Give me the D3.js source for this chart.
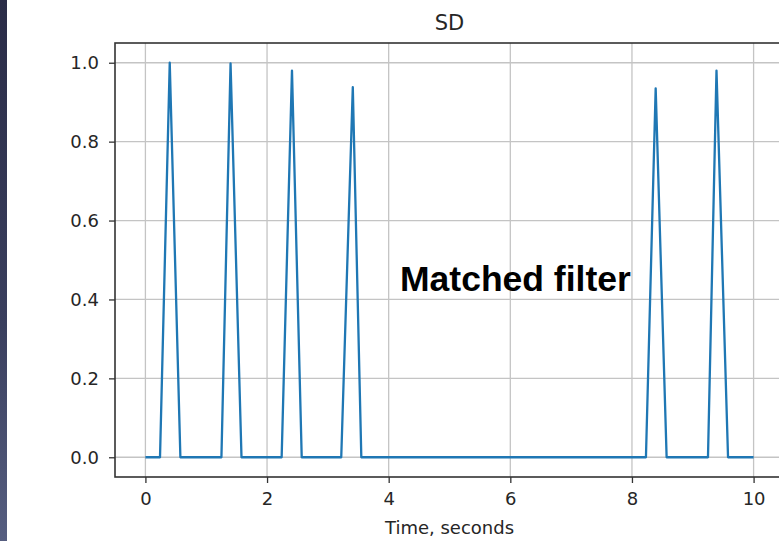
<!DOCTYPE html>
<html>
<head>
<meta charset="utf-8">
<script src="https://cdn.jsdelivr.net/npm/d3@7"></script>
<style>
  html, body { margin: 0; padding: 0; background: #ffffff; }
  svg { display: block; }
</style>
</head>
<body>
<svg id="chart" width="779" height="541"></svg>
<script>
// Matched filter output over time
const timeSeconds = [0, 0.24, 0.40, 0.575, 1.25, 1.40, 1.58, 2.24, 2.41, 2.57, 3.22, 3.41, 3.55, 8.23, 8.39, 8.57, 9.25, 9.39, 9.58, 10.0];
const sdValues    = [0, 0,    1.0,  0,     0,    0.998, 0,   0,    0.980, 0,   0,    0.938, 0,   0,    0.935, 0,   0,    0.980, 0,   0];
const xTicks = [0, 2, 4, 6, 8, 10];
const yTicks = [0.0, 0.2, 0.4, 0.6, 0.8, 1.0];
const titleText = "SD";
const xLabelText = "Time, seconds";
const noteText = "Matched filter";

const svg = d3.select("#chart");
const W = 779, H = 541;

// dark sidebar strip at the left edge
const defs = svg.append("defs");
const grad = defs.append("linearGradient").attr("id", "strip").attr("x1", 0).attr("y1", 0).attr("x2", 0).attr("y2", 1);
grad.append("stop").attr("offset", "0%").attr("stop-color", "#2a2c47");
grad.append("stop").attr("offset", "60%").attr("stop-color", "#3a3f5e");
grad.append("stop").attr("offset", "100%").attr("stop-color", "#565e80");
svg.append("rect").attr("x", 0).attr("y", 0).attr("width", 7).attr("height", H).attr("fill", "url(#strip)");

const plot = { left: 115, right: 784, top: 43, bottom: 477 };

const x = d3.scaleLinear().domain([-0.5, 10.5]).range([plot.left, plot.right]);
const y = d3.scaleLinear().domain([-0.05, 1.05]).range([plot.bottom, plot.top]);

const font = "'DejaVu Sans', sans-serif";

// grid
const grid = svg.append("g");
grid.selectAll("line.vx").data(xTicks).join("line")
  .attr("x1", d => x(d)).attr("x2", d => x(d))
  .attr("y1", plot.top).attr("y2", plot.bottom)
  .attr("stroke", "#c4c4c4").attr("stroke-width", 1.3);
grid.selectAll("line.hy").data(yTicks).join("line")
  .attr("x1", plot.left).attr("x2", plot.right)
  .attr("y1", d => y(d)).attr("y2", d => y(d))
  .attr("stroke", "#c4c4c4").attr("stroke-width", 1.3);

// signal line
const line = d3.line().x((d, i) => x(timeSeconds[i])).y(d => y(d));
svg.append("path")
  .datum(sdValues)
  .attr("d", line)
  .attr("fill", "none")
  .attr("stroke", "#1f77b4")
  .attr("stroke-width", 2.3)
  .attr("stroke-linejoin", "round");

// spines
svg.append("rect")
  .attr("x", plot.left).attr("y", plot.top)
  .attr("width", plot.right - plot.left).attr("height", plot.bottom - plot.top)
  .attr("fill", "none").attr("stroke", "#333333").attr("stroke-width", 1.6);

// axes
const xAxis = d3.axisBottom(x).tickValues(xTicks).tickFormat(d3.format("d")).tickSize(6).tickPadding(9);
const yAxis = d3.axisLeft(y).tickValues(yTicks).tickFormat(d3.format(".1f")).tickSize(6).tickPadding(10);

const gx = svg.append("g").attr("transform", `translate(0,${plot.bottom})`).call(xAxis);
const gy = svg.append("g").attr("transform", `translate(${plot.left},0)`).call(yAxis);
[gx, gy].forEach(g => {
  g.select(".domain").remove();
  g.selectAll(".tick line").attr("stroke", "#333333").attr("stroke-width", 1.3);
  g.selectAll(".tick text").attr("fill", "#262626").style("font-family", font).style("font-size", "18px");
});

// title
svg.append("text")
  .attr("x", (plot.left + plot.right) / 2).attr("y", 30)
  .attr("text-anchor", "middle")
  .style("font-family", font).style("font-size", "21px").attr("fill", "#262626")
  .text(titleText);

// x label
svg.append("text")
  .attr("x", (plot.left + plot.right) / 2).attr("y", 534)
  .attr("text-anchor", "middle")
  .style("font-family", font).style("font-size", "18px").attr("fill", "#262626")
  .text(xLabelText);

// annotation
svg.append("text")
  .attr("x", 400).attr("y", 291)
  .style("font-family", "'Liberation Sans', Arial, sans-serif")
  .style("font-weight", "bold").style("font-size", "35.5px").attr("fill", "#000000")
  .text(noteText);
</script>
</body>
</html>
